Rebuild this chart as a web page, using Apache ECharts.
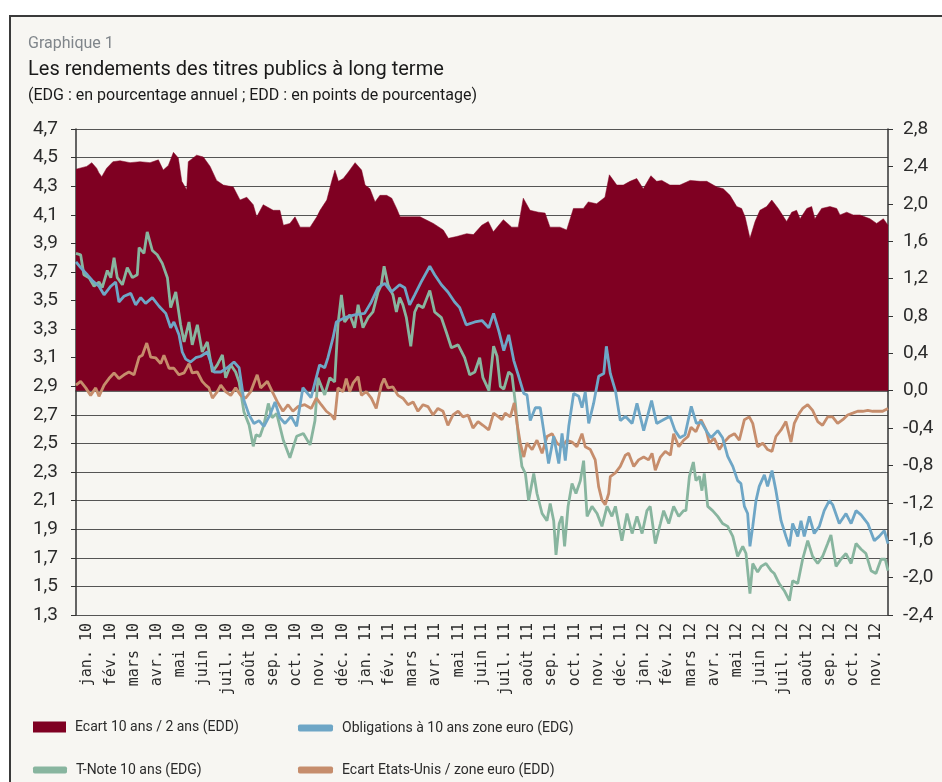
<!DOCTYPE html>
<html>
<head>
<meta charset="utf-8">
<script src="https://cdn.jsdelivr.net/npm/echarts@6/dist/echarts.min.js"></script>
<style>
  html, body { margin: 0; padding: 0; background: #ffffff; }
  #frame { position: absolute; left: 9px; top: 15px; width: 1000px; height: 1000px;
           border-left: 2.5px solid #3a3a3a; border-top: 2.5px solid #3a3a3a; background: #f7f6f2; }
  #chart { position: absolute; left: 0; top: 0; width: 942px; height: 782px; }
</style>
</head>
<body>
<div id="frame"></div>
<div id="chart"></div>
<script>
// mois (position = mois écoulés depuis début janv. 2010)
var months = ['jan. 10','fév. 10','mars 10','avr. 10','mai 10','juin 10','juil. 10','août 10','sep. 10','oct. 10','nov. 10','déc. 10',
  'jan. 11','fév. 11','mars 11','avr. 11','mai 11','juin 11','juil. 11','août 11','sep. 11','oct. 11','nov. 11','déc. 11',
  'jan. 12','fév. 12','mars 12','avr. 12','mai 12','juin 12','juil. 12','août 12','sep. 12','oct. 12','nov. 12'];

// Ecart 10 ans / 2 ans (EDD)
var ecart10_2 = [[0,2.37],[0.46,2.40],[0.68,2.44],[0.89,2.38],[0.99,2.33],[1.11,2.29],[1.32,2.38],[1.59,2.45],[1.90,2.46],
  [2.33,2.44],[2.76,2.45],[3.19,2.44],[3.55,2.47],[3.76,2.36],[3.98,2.41],[4.20,2.55],[4.41,2.49],[4.56,2.24],[4.77,2.15],
  [4.84,2.45],[5.20,2.52],[5.49,2.50],[5.78,2.40],[6.06,2.25],[6.35,2.20],[6.78,2.18],[7.07,2.04],[7.36,2.07],[7.64,1.99],
  [7.79,1.86],[8.07,1.99],[8.50,1.93],[8.79,1.93],[8.94,1.77],[9.22,1.79],[9.44,1.86],[9.66,1.75],[10.09,1.75],[10.38,1.86],
  [10.52,1.93],[10.81,2.04],[11.02,2.24],[11.16,2.36],[11.31,2.24],[11.52,2.27],[11.74,2.34],[12.03,2.44],[12.31,2.36],
  [12.46,2.20],[12.67,2.16],[12.89,2.02],[13.10,2.09],[13.39,2.09],[13.61,2.06],[13.82,1.95],[13.97,1.86],[14.40,1.86],
  [14.83,1.86],[15.40,1.79],[15.83,1.72],[16.05,1.63],[16.41,1.65],[16.84,1.68],[17.13,1.67],[17.49,1.77],[17.77,1.81],
  [17.99,1.70],[18.42,1.83],[18.78,1.75],[19.06,1.75],[19.28,2.06],[19.57,1.93],[19.93,1.91],[20.22,1.90],[20.43,1.75],
  [20.86,1.75],[21.15,1.72],[21.44,1.95],[21.87,1.95],[22.08,2.02],[22.44,2.00],[22.80,2.07],[22.99,2.31],[23.31,2.20],
  [23.59,2.20],[23.88,2.24],[24.17,2.27],[24.45,2.16],[24.78,2.30],[25.03,2.24],[25.25,2.25],[25.60,2.20],[26.03,2.20],
  [26.47,2.25],[26.90,2.24],[27.19,2.24],[27.62,2.18],[27.90,2.16],[28.19,2.09],[28.48,1.97],[28.69,1.95],[28.84,1.86],
  [29.05,1.63],[29.27,1.81],[29.48,1.93],[29.77,1.97],[29.99,2.04],[30.27,1.95],[30.63,1.81],[30.85,1.91],[31.06,1.93],
  [31.21,1.84],[31.50,1.95],[31.71,1.97],[31.85,1.84],[32.14,1.95],[32.50,1.97],[32.79,1.95],[32.93,1.88],[33.22,1.91],
  [33.50,1.88],[33.79,1.88],[34.22,1.84],[34.51,1.79],[34.80,1.84],[35,1.77]];

// Obligations à 10 ans zone euro (EDG)
var oblig10Euro = [[0,3.77],[0.20,3.73],[0.49,3.68],[0.70,3.64],[0.99,3.60],[1.21,3.54],[1.50,3.60],[1.71,3.63],[1.85,3.49],
  [2.07,3.53],[2.36,3.55],[2.57,3.47],[2.79,3.52],[3.00,3.48],[3.29,3.52],[3.58,3.46],[3.87,3.41],[4.08,3.31],[4.22,3.35],
  [4.44,3.26],[4.58,3.14],[4.73,3.09],[4.94,3.07],[5.16,3.10],[5.38,3.11],[5.66,3.14],[5.95,3.00],[6.24,3.00],[6.52,3.03],
  [6.81,3.07],[7.03,3.03],[7.24,2.80],[7.46,2.70],[7.67,2.64],[7.89,2.66],[8.10,2.62],[8.36,2.70],[8.58,2.79],[8.79,2.68],
  [9.01,2.64],[9.27,2.69],[9.51,2.62],[9.78,2.89],[10.13,2.82],[10.50,3.05],[10.72,3.03],[10.86,3.10],[11.08,3.24],
  [11.22,3.35],[11.58,3.38],[12.01,3.40],[12.44,3.41],[12.73,3.49],[13.02,3.59],[13.31,3.62],[13.59,3.56],[13.95,3.61],
  [14.17,3.59],[14.38,3.47],[14.60,3.54],[14.88,3.63],[15.25,3.74],[15.46,3.68],[15.75,3.61],[16.03,3.56],[16.32,3.49],
  [16.54,3.45],[16.82,3.33],[17.19,3.35],[17.50,3.36],[17.79,3.31],[18.00,3.41],[18.22,3.29],[18.44,3.15],[18.65,3.26],
  [18.87,3.08],[19.08,2.97],[19.30,2.85],[19.44,2.84],[19.58,2.66],[19.80,2.75],[20.01,2.75],[20.16,2.59],[20.37,2.36],
  [20.59,2.55],[20.81,2.36],[20.95,2.57],[21.09,2.38],[21.24,2.62],[21.45,2.85],[21.67,2.83],[21.81,2.75],[21.95,2.86],
  [22.10,2.64],[22.31,2.78],[22.53,2.97],[22.75,2.99],[22.86,3.18],[23.03,2.99],[23.25,2.87],[23.46,2.66],[23.68,2.69],
  [23.97,2.64],[24.18,2.78],[24.47,2.59],[24.81,2.80],[25.03,2.64],[25.26,2.66],[25.60,2.69],[25.82,2.59],[26.03,2.54],
  [26.25,2.56],[26.52,2.76],[26.74,2.64],[26.95,2.65],[27.16,2.59],[27.37,2.54],[27.66,2.59],[27.87,2.54],[28.09,2.41],
  [28.31,2.34],[28.52,2.24],[28.66,2.22],[28.81,2.06],[28.95,2.01],[29.05,1.78],[29.17,1.92],[29.31,2.10],[29.45,2.20],
  [29.67,2.28],[29.81,2.20],[30.00,2.31],[30.17,2.17],[30.39,1.96],[30.60,1.85],[30.75,1.78],[30.89,1.94],[31.11,1.85],
  [31.25,1.96],[31.39,1.85],[31.61,1.99],[31.82,1.87],[32.04,1.92],[32.25,2.03],[32.47,2.10],[32.62,2.07],[32.90,1.94],
  [33.19,2.01],[33.41,1.94],[33.62,2.03],[33.84,2.00],[34.13,1.94],[34.41,1.82],[34.62,1.85],[34.84,1.89],[35,1.80]];

// T-Note 10 ans (EDG)
var tNote10 = [[0,3.83],[0.20,3.82],[0.34,3.68],[0.56,3.66],[0.78,3.60],[0.99,3.63],[1.13,3.59],[1.35,3.71],[1.50,3.66],
  [1.64,3.80],[1.78,3.66],[2.00,3.61],[2.21,3.73],[2.43,3.66],[2.64,3.68],[2.72,3.87],[2.93,3.83],[3.07,3.98],[3.29,3.85],
  [3.50,3.82],[3.72,3.76],[3.94,3.66],[4.08,3.45],[4.30,3.56],[4.51,3.33],[4.66,3.21],[4.87,3.35],[5.01,3.19],[5.23,3.33],
  [5.44,3.14],[5.66,3.21],[5.88,3.00],[6.09,3.05],[6.31,3.12],[6.45,2.96],[6.67,3.05],[6.88,3.00],[7.03,2.93],[7.24,2.72],
  [7.46,2.63],[7.64,2.48],[7.76,2.56],[7.93,2.55],[8.10,2.63],[8.29,2.78],[8.45,2.68],[8.65,2.71],[8.94,2.52],[9.22,2.40],
  [9.51,2.55],[9.80,2.57],[10.09,2.49],[10.30,2.66],[10.43,2.96],[10.72,2.84],[10.94,2.96],[11.15,2.93],[11.29,3.33],
  [11.44,3.54],[11.58,3.35],[11.80,3.40],[12.01,3.31],[12.16,3.47],[12.37,3.31],[12.59,3.38],[12.80,3.42],[13.02,3.56],
  [13.16,3.61],[13.28,3.74],[13.45,3.61],[13.66,3.54],[13.81,3.42],[13.95,3.52],[14.09,3.47],[14.24,3.38],[14.43,3.18],
  [14.60,3.42],[14.74,3.47],[14.96,3.45],[15.25,3.57],[15.46,3.42],[15.75,3.38],[15.96,3.28],[16.18,3.17],[16.47,3.19],
  [16.75,3.10],[16.97,2.98],[17.19,3.00],[17.40,3.10],[17.54,2.96],[17.80,2.87],[18.00,3.18],[18.15,3.11],[18.29,2.90],
  [18.44,2.88],[18.65,3.00],[18.79,2.98],[18.94,2.78],[19.08,2.52],[19.22,2.34],[19.37,2.29],[19.51,2.10],[19.73,2.29],
  [19.87,2.15],[20.09,2.01],[20.30,1.96],[20.44,2.08],[20.59,1.96],[20.69,1.72],[20.83,1.94],[20.95,1.99],[21.06,1.78],
  [21.21,2.06],[21.38,2.22],[21.55,2.15],[21.74,2.24],[21.88,2.38],[22.03,1.99],[22.24,2.06],[22.46,2.01],[22.67,1.92],
  [22.89,2.06],[23.10,1.99],[23.25,2.06],[23.53,1.82],[23.75,2.01],[23.97,1.87],[24.18,1.99],[24.40,1.87],[24.61,2.03],
  [24.75,2.06],[24.97,1.80],[25.19,1.94],[25.33,2.03],[25.55,1.94],[25.76,2.06],[25.98,1.99],[26.19,2.03],[26.29,2.03],
  [26.44,2.27],[26.61,2.37],[26.72,2.24],[26.87,2.27],[26.98,2.17],[27.08,2.29],[27.23,2.06],[27.44,2.03],[27.66,1.99],
  [27.87,1.94],[28.09,1.92],[28.31,1.85],[28.52,1.71],[28.74,1.78],[28.88,1.73],[29.05,1.45],[29.17,1.66],[29.38,1.60],
  [29.53,1.64],[29.74,1.66],[29.96,1.61],[30.10,1.59],[30.31,1.52],[30.53,1.47],[30.75,1.40],[30.89,1.54],[31.11,1.52],
  [31.32,1.69],[31.54,1.82],[31.75,1.71],[31.97,1.66],[32.18,1.71],[32.40,1.80],[32.54,1.86],[32.76,1.64],[32.97,1.69],
  [33.19,1.73],[33.41,1.66],[33.62,1.80],[33.84,1.76],[34.05,1.73],[34.27,1.61],[34.48,1.59],[34.70,1.69],[34.88,1.69],[35,1.61]];

// Ecart Etats-Unis / zone euro (EDD)
var ecartUsEuro = [[0,0.06],[0.20,0.10],[0.42,0.03],[0.63,-0.05],[0.85,0.03],[0.99,-0.06],[1.21,0.06],[1.42,0.13],[1.64,0.19],
  [1.85,0.13],[2.07,0.17],[2.28,0.20],[2.50,0.17],[2.72,0.36],[2.86,0.38],[3.05,0.51],[3.22,0.36],[3.44,0.35],[3.65,0.29],
  [3.79,0.38],[4.01,0.24],[4.22,0.24],[4.44,0.17],[4.66,0.19],[4.87,0.29],[5.01,0.19],[5.23,0.20],[5.44,0.10],[5.59,0.06],
  [5.73,0.03],[5.88,-0.08],[6.09,-0.01],[6.24,0.06],[6.45,-0.01],[6.67,-0.05],[6.88,0.03],[7.10,-0.05],[7.31,-0.08],
  [7.53,-0.01],[7.81,0.17],[7.96,0.03],[8.25,0.10],[8.46,-0.01],[8.68,-0.12],[8.92,-0.22],[9.14,-0.15],[9.35,-0.22],
  [9.57,-0.17],[9.86,-0.15],[10.14,-0.19],[10.36,-0.08],[10.57,-0.15],[10.79,-0.22],[11.00,-0.26],[11.15,-0.31],[11.29,0.03],
  [11.51,-0.01],[11.65,0.13],[11.80,-0.01],[11.94,0.08],[12.16,0.15],[12.30,-0.05],[12.51,-0.01],[12.73,-0.08],[12.94,-0.19],
  [13.16,0.06],[13.28,0.13],[13.45,0.03],[13.66,0.04],[13.88,-0.05],[14.09,-0.08],[14.31,-0.15],[14.53,-0.12],[14.74,-0.22],
  [14.96,-0.15],[15.17,-0.17],[15.39,-0.26],[15.60,-0.19],[15.82,-0.22],[16.03,-0.37],[16.25,-0.26],[16.47,-0.22],[16.68,-0.28],
  [16.90,-0.26],[17.11,-0.40],[17.33,-0.33],[17.54,-0.37],[17.79,-0.42],[18.00,-0.24],[18.22,-0.28],[18.36,-0.31],[18.50,-0.24],
  [18.72,-0.28],[18.89,-0.13],[19.01,-0.35],[19.15,-0.56],[19.30,-0.71],[19.44,-0.56],[19.66,-0.63],[19.87,-0.53],[20.09,-0.67],
  [20.30,-0.49],[20.52,-0.46],[20.73,-0.56],[20.95,-0.60],[21.16,-0.53],[21.38,-0.55],[21.59,-0.60],[21.81,-0.46],[21.95,-0.60],
  [22.17,-0.63],[22.38,-0.74],[22.53,-1.03],[22.67,-1.17],[22.81,-1.22],[22.96,-1.10],[23.03,-0.92],[23.25,-0.88],[23.46,-0.81],
  [23.68,-0.69],[23.82,-0.67],[24.04,-0.81],[24.25,-0.74],[24.47,-0.71],[24.68,-0.74],[24.83,-0.67],[24.97,-0.85],[25.19,-0.71],
  [25.40,-0.65],[25.62,-0.69],[25.76,-0.46],[25.98,-0.60],[26.19,-0.53],[26.38,-0.49],[26.51,-0.39],[26.72,-0.44],[26.94,-0.31],
  [27.16,-0.42],[27.30,-0.56],[27.51,-0.51],[27.73,-0.63],[27.94,-0.55],[28.16,-0.49],[28.38,-0.46],[28.59,-0.53],[28.81,-0.31],
  [29.02,-0.28],[29.17,-0.35],[29.38,-0.60],[29.60,-0.56],[29.81,-0.63],[30.00,-0.65],[30.17,-0.49],[30.39,-0.42],[30.60,-0.33],
  [30.82,-0.55],[30.96,-0.35],[31.18,-0.24],[31.32,-0.19],[31.54,-0.15],[31.75,-0.21],[31.97,-0.33],[32.18,-0.37],[32.40,-0.28],
  [32.61,-0.28],[32.83,-0.35],[33.05,-0.31],[33.26,-0.26],[33.48,-0.24],[33.69,-0.22],[33.91,-0.22],[34.13,-0.21],[34.34,-0.22],
  [34.56,-0.22],[34.77,-0.22],[35,-0.19]];

var chart = echarts.init(document.getElementById('chart'));
var font = 'Roboto';
var comma = function (v) { return v.toFixed(1).replace('.', ','); };

function legendAt(name, left, top, w, h, icon) {
  return {
    data: [{ name: name, icon: icon }],
    left: left, top: top, itemWidth: w, itemHeight: h,
    textStyle: { fontFamily: font, fontSize: 14, color: '#2b2b2b', padding: [0, 0, 0, 4] },
    selectedMode: false
  };
}

var option = {
  backgroundColor: 'transparent',
  animation: false,
  title: [
    { text: 'Graphique 1', left: 23, top: 31, textStyle: { fontFamily: font, fontSize: 16, fontWeight: 'normal', color: '#80868b' } },
    { text: 'Les rendements des titres publics à long terme', left: 23, top: 55,
      textStyle: { fontFamily: font, fontSize: 20, fontWeight: 'normal', color: '#1a1a1a' } },
    { text: '(EDG : en pourcentage annuel ; EDD : en points de pourcentage)', left: 23, top: 83,
      textStyle: { fontFamily: font, fontSize: 16, fontWeight: 'normal', color: '#1a1a1a' } }
  ],
  legend: [
    legendAt('Ecart 10 ans / 2 ans (EDD)', 28, 715, 33, 11, 'rect'),
    legendAt('Obligations à 10 ans zone euro (EDG)', 293, 716, 35, 7, 'roundRect'),
    legendAt('T-Note 10 ans (EDG)', 28, 758, 34, 7, 'roundRect'),
    legendAt('Ecart Etats-Unis / zone euro (EDD)', 293, 758, 35, 7, 'roundRect')
  ],
  grid: { left: 76, right: 54, top: 129, bottom: 167 },
  xAxis: [
    {
      type: 'category', data: months, boundaryGap: true, position: 'bottom',
      axisLine: { lineStyle: { color: '#333', width: 1.5 } },
      axisTick: { interval: 0, length: 5, lineStyle: { color: '#333' } },
      axisLabel: { interval: 0, rotate: 90, margin: 8, fontFamily: 'DejaVu Sans Mono', fontSize: 15, color: '#2b2b2b' }
    },
    { type: 'value', min: 0, max: 35, show: false }
  ],
  yAxis: [
    {
      type: 'value', min: 1.3, max: 4.7, interval: 0.2, position: 'left',
      axisLine: { show: true, lineStyle: { color: '#333', width: 1.5 } },
      axisTick: { show: true, length: 5, lineStyle: { color: '#333' } },
      axisLabel: { formatter: comma, fontFamily: font, fontSize: 19, color: '#2b2b2b', margin: 18 },
      splitLine: { lineStyle: { color: '#555', width: 1.2 } }
    },
    {
      type: 'value', min: -2.4, max: 2.8, interval: 0.4, position: 'right',
      axisLine: { show: true, lineStyle: { color: '#333', width: 1.5 } },
      axisTick: { show: true, length: 5, lineStyle: { color: '#333' } },
      axisLabel: { formatter: comma, fontFamily: font, fontSize: 19, color: '#2b2b2b', margin: 15 },
      splitLine: { show: false }
    }
  ],
  series: [
    {
      name: 'Ecart 10 ans / 2 ans (EDD)', type: 'line', xAxisIndex: 1, yAxisIndex: 1, data: ecart10_2,
      symbol: 'none', color: '#7f0022', lineStyle: { width: 0.5, color: '#7f0022' },
      areaStyle: { color: '#7f0022', opacity: 1, origin: 0 }
    },
    {
      name: 'T-Note 10 ans (EDG)', type: 'line', xAxisIndex: 1, yAxisIndex: 0, data: tNote10,
      symbol: 'none', color: '#88b59f', lineStyle: { width: 2.8, color: '#88b59f' }
    },
    {
      name: 'Ecart Etats-Unis / zone euro (EDD)', type: 'line', xAxisIndex: 1, yAxisIndex: 1, data: ecartUsEuro,
      symbol: 'none', color: '#c68d6c', lineStyle: { width: 2.8, color: '#c68d6c' }
    },
    {
      name: 'Obligations à 10 ans zone euro (EDG)', type: 'line', xAxisIndex: 1, yAxisIndex: 0, data: oblig10Euro,
      symbol: 'none', color: '#6ea6c6', lineStyle: { width: 2.8, color: '#6ea6c6' }
    }
  ]
};

chart.setOption(option);
</script>
</body>
</html>
